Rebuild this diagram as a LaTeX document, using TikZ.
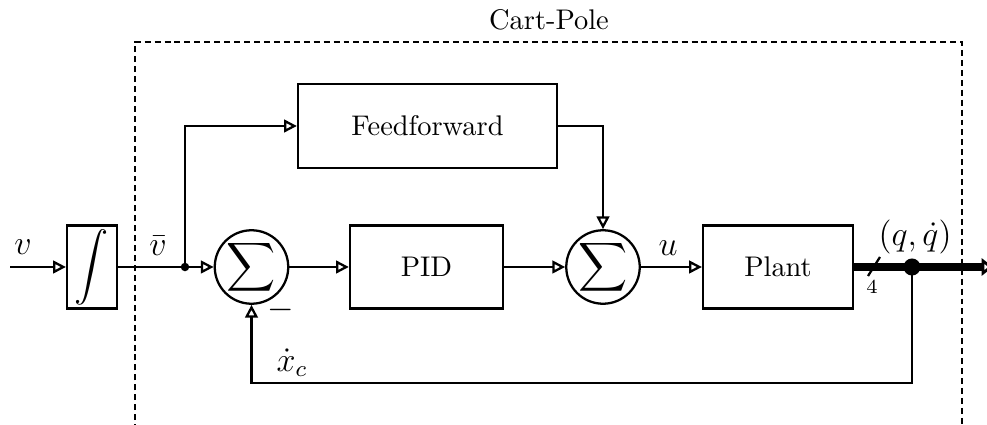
\documentclass[tikz,border=0pt]{standalone}
\usetikzlibrary{arrows.meta}
\begin{document}
\begin{tikzpicture}[x=0.352pt,y=-0.352pt,
  blk/.style={draw,thick,rectangle,inner sep=0pt},
  sumnode/.style={draw,thick,circle,minimum size=23.2pt,inner sep=0pt},
  conn/.style={thick,-{Triangle[open,length=4.5pt,width=4.5pt]}},
  plain/.style={thick},
  bus/.style={line width=2.8pt,-{Triangle[open,length=4pt,width=6pt]}},
  subsys/.style={line width=0.4pt,dash pattern=on 2.1pt off 1.4pt},
  mlabel/.style={font=\large,inner sep=1pt}]
\useasboundingbox (0,0) rectangle (987,425);
\node (cp) at (549,20) {Cart-Pole};
% blocks
\node[blk,minimum width=17.6pt,minimum height=29.2pt] (int) at (92,267) {\scalebox{1.2}{$\displaystyle\int$}};
\node[blk,minimum width=91.2pt,minimum height=29.6pt] (ff) at (427.5,126) {Feedforward};
\node[blk,minimum width=53.9pt,minimum height=29.2pt] (pid) at (426.5,267) {PID};
\node[blk,minimum width=52.8pt,minimum height=29.2pt] (plant) at (778,267) {Plant};
\node[sumnode] (s1) at (251.5,267) {\scalebox{1.2}{$\displaystyle\sum$}};
\node[sumnode] (s2) at (603,267) {\scalebox{1.2}{$\displaystyle\sum$}};
% coordinates
\coordinate (in) at (10,267);
\coordinate (j1) at (185,267);
\coordinate (j2) at (912,267);
\coordinate (out) at (993,267);
\coordinate (fb) at (912,383);
% connectors
\draw[conn] (in) -- (int.west);
\draw[plain] (int.east) -- (j1);
\draw[conn] (j1) -- (s1.west);
\fill (j1) circle (1.5pt);
\draw[conn] (j1) |- (ff.west);
\draw[conn] (ff.east) -| (s2.north);
\draw[conn] (s1.east) -- (pid.west);
\draw[conn] (pid.east) -- (s2.west);
\draw[conn] (s2.east) -- (plant.west);
\draw[bus] (plant.east) -- (out);
\draw[thick] (880,257) -- (868,276);
\node[font=\scriptsize,inner sep=0pt] (four) at (872,287) {$4$};
\fill (j2) circle (3pt);
\draw[conn] (j2) -- (fb) -| (s1.south);
% dashed subsystem box
\draw[subsys] (135,440) -- (135,42) -- (962,42) -- (962,440);
% labels
\node[mlabel] (lv) at (23,247) {$v$};
\node[mlabel] (lvb) at (158,246) {$\bar v$};
\node[mlabel] (lu) at (668,248) {$u$};
\node[mlabel] (lq) at (915,237) {$(q,\dot q)$};
\node[mlabel] (lm) at (281,310) {$-$};
\node[mlabel] (lx) at (292,363) {$\dot x_c$};
\end{tikzpicture}
\end{document}
